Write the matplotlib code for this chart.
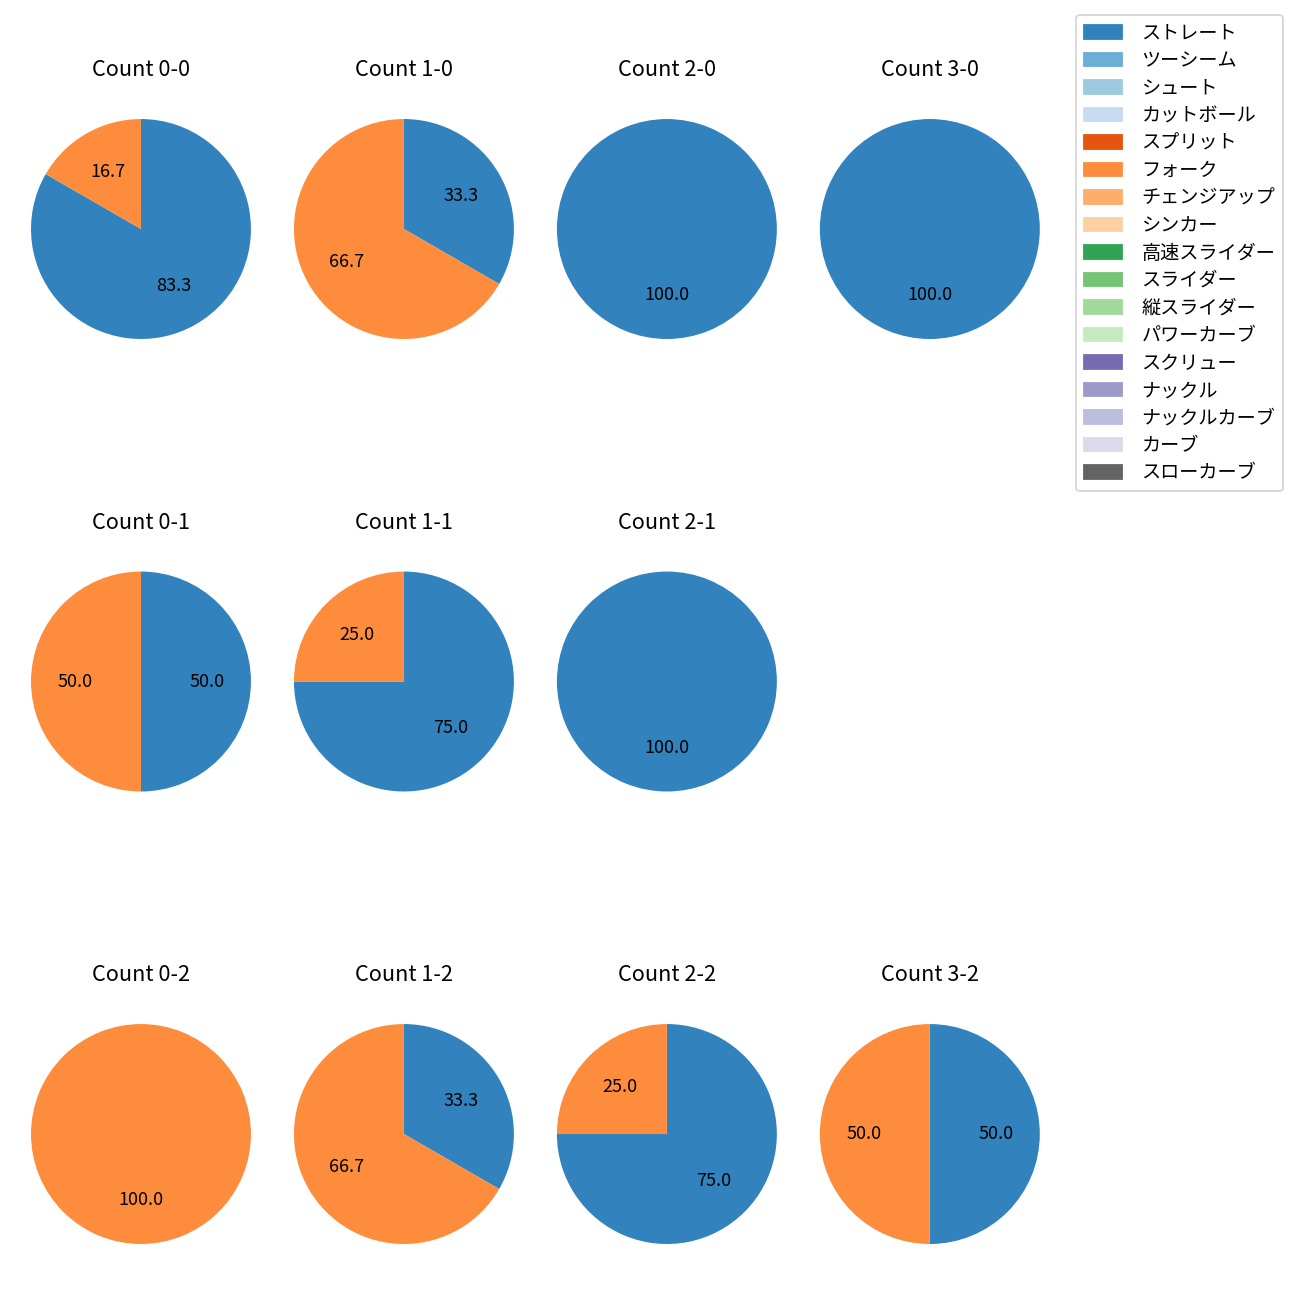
#!/usr/bin/env python3
"""Pitch-type share per ball-strike count, as a grid of pies."""

import matplotlib

matplotlib.use("Agg")
import matplotlib.pyplot as plt  # noqa: E402
from matplotlib.patches import Patch  # noqa: E402

plt.rcParams["font.family"] = ["Noto Sans CJK JP", "DejaVu Sans"]

# ---------------------------------------------------------------------------
# Data
# ---------------------------------------------------------------------------

pitch_types = [
    "ストレート", "ツーシーム", "シュート", "カットボール", "スプリット",
    "フォーク", "チェンジアップ", "シンカー", "高速スライダー", "スライダー",
    "縦スライダー", "パワーカーブ", "スクリュー", "ナックル", "ナックルカーブ",
    "カーブ", "スローカーブ",
]

balls = [0, 1, 2, 3]
strikes = [0, 1, 2]

# pitches thrown per count: ストレート / フォーク
straight = {
    (0, 0): 5, (1, 0): 1, (2, 0): 1, (3, 0): 1,
    (0, 1): 1, (1, 1): 3, (2, 1): 1, (3, 1): 0,
    (0, 2): 0, (1, 2): 1, (2, 2): 3, (3, 2): 1,
}
fork = {
    (0, 0): 1, (1, 0): 2, (2, 0): 0, (3, 0): 0,
    (0, 1): 1, (1, 1): 1, (2, 1): 0, (3, 1): 0,
    (0, 2): 1, (1, 2): 2, (2, 2): 1, (3, 2): 1,
}

# ---------------------------------------------------------------------------
# Plot
# ---------------------------------------------------------------------------

cmap = plt.get_cmap("tab20c")
colors = {name: cmap(i) for i, name in enumerate(pitch_types)}

fig, axes = plt.subplots(3, 4, figsize=(10, 10))
# pies overlap their neighbours' empty margins slightly (as tight_layout did)
fig.subplots_adjust(left=0.0027, right=0.821, top=0.9296, bottom=0.0219,
                    wspace=-0.0436, hspace=0.6455)

for r, s in enumerate(strikes):
    for c, b in enumerate(balls):
        ax = axes[r, c]
        vals, cols = [], []
        for name, src in (("ストレート", straight), ("フォーク", fork)):
            v = src[(b, s)]
            if v > 0:
                vals.append(v)
                cols.append(colors[name])
        if not vals:
            ax.axis("off")
            continue
        ax.pie(vals, colors=cols, startangle=90, counterclock=False,
               autopct="%.1f")
        ax.set_title(f"Count {b}-{s}", pad=8.5)

handles = [Patch(color=colors[n], label=n) for n in pitch_types]
fig.legend(handles=handles, loc="upper right", bbox_to_anchor=(0.987, 0.9885),
           borderaxespad=0, fontsize=10.6, handletextpad=1.0, labelspacing=0.34)

fig.savefig("out.png", dpi=130)
plt.close(fig)
